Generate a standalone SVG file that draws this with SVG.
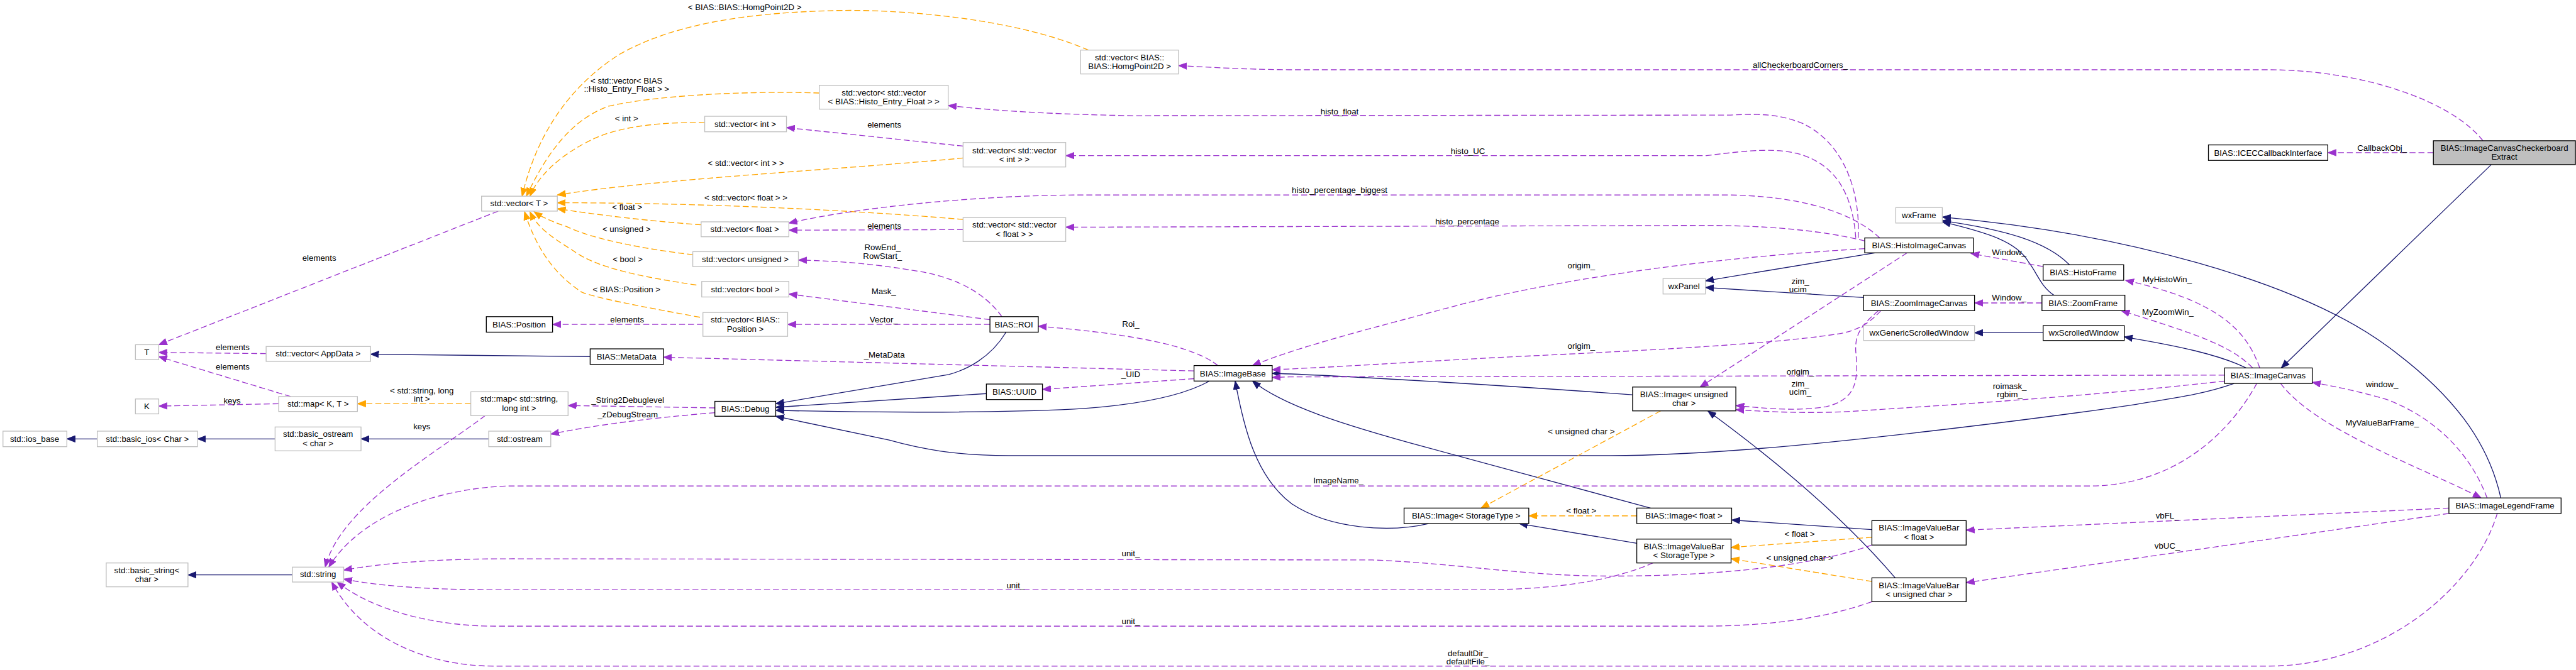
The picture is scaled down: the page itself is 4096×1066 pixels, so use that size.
<svg xmlns="http://www.w3.org/2000/svg" width="4096" height="1066" viewBox="0 0 4096 1066">
<style>
text{font-family:"Liberation Sans",Arial,Helvetica,sans-serif;font-size:14px;fill:#000;text-anchor:middle}
.node rect{fill:#fff;stroke:#000;stroke-width:1.4}
.node.ext rect{stroke:#bfbfbf}
.node.main rect{fill:#bfbfbf;stroke:#000}
.e{fill:none;stroke-width:1.4}
.inh{stroke:#191970;marker-end:url(#aN)}
.use{stroke:#9a32cd;stroke-dasharray:10,5;marker-end:url(#aP)}
.tpl{stroke:#ffa500;stroke-dasharray:10,5;marker-end:url(#aO)}
</style>
<defs>
<marker id="aN" markerUnits="userSpaceOnUse" markerWidth="15" markerHeight="12" viewBox="0 0 15 12" refX="14" refY="6" orient="auto"><path d="M0,0.5 L14,6 L0,11.5 z" fill="#191970" stroke="#191970"/></marker>
<marker id="aP" markerUnits="userSpaceOnUse" markerWidth="15" markerHeight="12" viewBox="0 0 15 12" refX="14" refY="6" orient="auto"><path d="M0,0.5 L14,6 L0,11.5 z" fill="#9a32cd" stroke="#9a32cd"/></marker>
<marker id="aO" markerUnits="userSpaceOnUse" markerWidth="15" markerHeight="12" viewBox="0 0 15 12" refX="14" refY="6" orient="auto"><path d="M0,0.5 L14,6 L0,11.5 z" fill="#ffa500" stroke="#ffa500"/></marker>
</defs>
<rect x="0" y="0" width="4096" height="1066" fill="#fff"/>
<g transform="scale(0.94881)">
<g id="edges">
<!-- inheritance -->
<path class="e inh" d="M163,736 L112,736"/>
<path class="e inh" d="M461,736 L331,736"/>
<path class="e inh" d="M819,736 L605,736"/>
<path class="e inh" d="M989,598 L621,594"/>
<path class="e inh" d="M490,964 L315,964"/>
<path class="e inh" d="M1686,557 C1660,600 1620,620 1590,628 L1300,677"/>
<path class="e inh" d="M1653,660 L1300,683"/>
<path class="e inh" d="M2027,639 C1980,665 1900,680 1800,686 C1650,693 1450,692 1300,688"/>
<path class="e inh" d="M3744,643 C3690,662 3640,668 3580,678 C3400,705 3100,740 2950,752 C2850,760 2760,764 2700,764 L1690,764 C1600,764 1540,752 1490,738 L1300,698"/>
<path class="e inh" d="M2766,852 L2390,750 C2250,712 2150,680 2099,639"/>
<path class="e inh" d="M2394,878 C2330,893 2230,888 2165,845 C2105,800 2085,720 2070,639"/>
<path class="e inh" d="M2743,911 L2546,878"/>
<path class="e inh" d="M3137,888 L2902,872"/>
<path class="e inh" d="M3176,969 C3100,880 3000,790 2862,689"/>
<path class="e inh" d="M2736,662 C2500,645 2250,630 2132,626"/>
<path class="e inh" d="M3142,424 L2858,471"/>
<path class="e inh" d="M3123,499 L2858,482"/>
<path class="e inh" d="M3468,444 C3430,405 3360,385 3255,370"/>
<path class="e inh" d="M3442,495 C3420,480 3415,460 3400,440 C3380,405 3330,390 3255,372"/>
<path class="e inh" d="M4191,835 C4170,740 4110,660 4000,580 C3850,470 3550,390 3255,364"/>
<path class="e inh" d="M3424,558 L3309,558"/>
<path class="e inh" d="M3764,617 C3720,595 3650,580 3560,565"/>
<path class="e inh" d="M4175,276 L3823,617"/>
<!-- template instantiation -->
<path class="e tpl" d="M1824,84 C1700,30 1500,14 1390,18 C1250,22 1130,40 1040,90 C960,140 900,220 875,329"/>
<text x="1248" y="17">&lt; BIAS::BIAS::HomgPoint2D &gt;</text>
<path class="e tpl" d="M1373,156 C1250,152 1100,160 1020,178 C960,200 920,250 882,329"/>
<text x="1050" y="140">&lt; std::vector&lt; BIAS</text>
<text x="1050" y="154">::Histo_Entry_Float &gt; &gt;</text>
<path class="e tpl" d="M1181,206 C1120,204 1040,210 990,235 C930,265 900,300 888,329"/>
<text x="1050" y="203">&lt; int &gt;</text>
<path class="e tpl" d="M1614,265 C1400,285 1100,300 934,327"/>
<text x="1250" y="278">&lt; std::vector&lt; int &gt; &gt;</text>
<path class="e tpl" d="M1614,368 C1400,350 1150,340 934,340"/>
<text x="1250" y="336">&lt; std::vector&lt; float &gt; &gt;</text>
<path class="e tpl" d="M1175,377 C1080,370 1000,360 934,350"/>
<text x="1051" y="352">&lt; float &gt;</text>
<path class="e tpl" d="M1161,427 C1080,418 990,400 950,380 C920,370 905,362 895,355"/>
<text x="1050" y="389">&lt; unsigned &gt;</text>
<path class="e tpl" d="M1167,478 C1080,465 1000,450 960,420 C920,395 900,380 888,355"/>
<text x="1052" y="439">&lt; bool &gt;</text>
<path class="e tpl" d="M1173,532 C1080,515 1000,500 975,490 C930,460 900,420 879,355"/>
<text x="1050" y="490">&lt; BIAS::Position &gt;</text>
<path class="e tpl" d="M789,677 L599,677"/>
<text x="707" y="660">&lt; std::string, long</text>
<text x="707" y="674">int &gt;</text>
<path class="e tpl" d="M2743,865 L2562,865"/>
<text x="2650" y="861">&lt; float &gt;</text>
<path class="e tpl" d="M3137,901 L2901,918"/>
<text x="3016" y="900">&lt; float &gt;</text>
<path class="e tpl" d="M3137,975 L2901,937"/>
<text x="3016" y="940">&lt; unsigned char &gt;</text>
<path class="e tpl" d="M2783,689 L2482,852"/>
<text x="2650" y="728">&lt; unsigned char &gt;</text>
<!-- usage -->
<path class="e use" d="M835,354 L266,578"/>
<text x="535" y="437">elements</text>
<path class="e use" d="M446,593 L266,591"/>
<text x="390" y="587">elements</text>
<path class="e use" d="M487,665 L266,598"/>
<text x="390" y="620">elements</text>
<path class="e use" d="M467,677 L266,681"/>
<text x="389" y="677">keys</text>
<path class="e use" d="M813,697 C730,760 570,850 545,951"/>
<text x="707" y="720">keys</text>
<path class="e use" d="M1198,684 L952,680"/>
<text x="1052" y="676">_String2Debuglevel</text>
<path class="e use" d="M1198,692 C1100,700 1000,712 923,728"/>
<text x="1052" y="700">_zDebugStream</text>
<path class="e use" d="M1178,544 L926,544"/>
<text x="1051" y="541">elements</text>
<path class="e use" d="M1614,245 L1318,214"/>
<text x="1482" y="214">elements</text>
<path class="e use" d="M1614,385 L1322,386"/>
<text x="1482" y="384">elements</text>
<path class="e use" d="M1679,531 C1650,490 1600,465 1540,455 C1450,440 1400,438 1338,436"/>
<text x="1479" y="419">RowEnd_</text>
<text x="1479" y="434">RowStart_</text>
<path class="e use" d="M1659,536 L1322,493"/>
<text x="1481" y="493">Mask_</text>
<path class="e use" d="M1659,544 L1320,544"/>
<text x="1481" y="541">Vector_</text>
<path class="e use" d="M2041,613 C2000,580 1900,560 1740,547"/>
<text x="1895" y="548">Roi_</text>
<path class="e use" d="M2001,622 L1112,599"/>
<text x="1482" y="600">_MetaData</text>
<path class="e use" d="M2001,635 L1747,653"/>
<text x="1895" y="632">_UID</text>
<path class="e use" d="M4161,236 C4110,170 3960,117 3800,117 L2160,117 C2080,116 2030,113 1975,110"/>
<text x="3017" y="114">allCheckerboardCorners_</text>
<path class="e use" d="M4078,256 L3901,256"/>
<text x="3992" y="253">CallbackObj_</text>
<path class="e use" d="M3114,399 C3118,320 3090,240 3021,207 C2985,192 2950,190 2900,193 L1900,194 C1780,192 1680,187 1589,177"/>
<text x="2245" y="192">histo_float</text>
<path class="e use" d="M3110,399 C3105,330 3080,280 3021,260 C2980,247 2930,252 2860,261 L1786,261"/>
<text x="2460" y="258">histo_UC</text>
<path class="e use" d="M3150,399 C3120,370 3050,330 2900,327 L1800,327 C1650,328 1450,345 1322,374"/>
<text x="2245" y="324">histo_percentage_biggest</text>
<path class="e use" d="M3125,404 C3050,385 2950,378 2860,378 L1786,381"/>
<text x="2459" y="376">histo_percentage</text>
<path class="e use" d="M3125,417 C2900,430 2650,460 2450,510 C2300,550 2180,580 2099,613"/>
<text x="2650" y="450">origim_</text>
<path class="e use" d="M3196,424 L2849,649"/>
<text x="3017" y="476">zim_</text>
<text x="3017" y="490">ucim_</text>
<path class="e use" d="M3148,521 C3120,545 3108,560 3110,590 C3115,640 3110,670 3060,682 C3010,690 2960,685 2909,680"/>
<text x="3017" y="648">zim_</text>
<text x="3017" y="662">ucim_</text>
<path class="e use" d="M3152,521 C3130,545 3110,555 3080,560 C2950,580 2700,590 2500,600 C2350,608 2250,615 2132,620"/>
<text x="2650" y="585">origim_</text>
<path class="e use" d="M3728,629 L2160,632 L2132,633"/>
<text x="3017" y="628">origim_</text>
<path class="e use" d="M3728,639 C3500,665 3250,680 3100,690 C3020,694 2960,690 2909,687"/>
<text x="3368" y="652">roimask_</text>
<text x="3368" y="666">rgbim_</text>
<path class="e use" d="M3424,447 L3303,425"/>
<text x="3367" y="428">Window_</text>
<path class="e use" d="M3422,508 L3309,508"/>
<text x="3367" y="504">Window_</text>
<path class="e use" d="M3787,617 C3765,555 3720,505 3562,470"/>
<text x="3632" y="473">MyHistoWin_</text>
<path class="e use" d="M3775,617 C3740,580 3680,560 3555,521"/>
<text x="3633" y="528">MyZoomWin_</text>
<path class="e use" d="M4168,835 C4140,760 4080,700 4000,670 C3950,655 3910,648 3875,641"/>
<text x="3992" y="649">window_</text>
<path class="e use" d="M3822,643 C3880,720 4050,780 4158,835"/>
<text x="3992" y="714">MyValueBarFrame_</text>
<path class="e use" d="M3782,643 C3740,720 3650,815 3500,815 L850,815 C720,820 600,870 551,951"/>
<text x="2243" y="811">ImageName_</text>
<path class="e use" d="M2770,944 C2700,975 2600,989 2480,989 L830,989 C700,989 620,980 576,971"/>
<text x="1702" y="986">unit_</text>
<path class="e use" d="M3137,914 C3050,945 2900,966 2700,966 C2550,966 2450,945 2300,939 L860,937 C720,937 640,945 576,956"/>
<text x="1895" y="933">unit_</text>
<path class="e use" d="M3137,1009 C3050,1040 2950,1050 2849,1050 L830,1050 C720,1050 620,1020 565,976"/>
<text x="1895" y="1047">unit_</text>
<path class="e use" d="M4185,861 C4150,980 4000,1117 3800,1117 L830,1117 C700,1117 600,1060 556,976"/>
<text x="2460" y="1100">defaultDir_</text>
<text x="2460" y="1114">defaultFile_</text>
<path class="e use" d="M4104,852 L3295,889"/>
<text x="3632" y="869">vbFL_</text>
<path class="e use" d="M4104,861 L3295,977"/>
<text x="3632" y="920">vbUC_</text>
</g>
<g id="n_extract" class="node main"><rect x="4078" y="236" width="238" height="40"/><text x="4197" y="253">BIAS::ImageCanvasCheckerboard</text><text x="4197" y="268">Extract</text></g>
<g id="n_icec" class="node"><rect x="3701" y="243" width="200" height="26"/><text x="3801" y="261">BIAS::ICECCallbackInterface</text></g>
<g id="n_vhomg" class="node ext"><rect x="1811" y="84" width="164" height="40"/><text x="1893" y="101">std::vector&lt; BIAS::</text><text x="1893" y="116">BIAS::HomgPoint2D &gt;</text></g>
<g id="n_vhisto" class="node ext"><rect x="1373" y="143" width="216" height="40"/><text x="1481" y="160">std::vector&lt; std::vector</text><text x="1481" y="175">&lt; BIAS::Histo_Entry_Float &gt; &gt;</text></g>
<g id="n_vint" class="node ext"><rect x="1181" y="195" width="137" height="26"/><text x="1249" y="213">std::vector&lt; int &gt;</text></g>
<g id="n_vvint" class="node ext"><rect x="1614" y="239" width="172" height="41"/><text x="1700" y="257">std::vector&lt; std::vector</text><text x="1700" y="272">&lt; int &gt; &gt;</text></g>
<g id="n_vT" class="node ext"><rect x="807" y="329" width="127" height="25"/><text x="870" y="346">std::vector&lt; T &gt;</text></g>
<g id="n_vfloat" class="node ext"><rect x="1175" y="372" width="147" height="25"/><text x="1248" y="389">std::vector&lt; float &gt;</text></g>
<g id="n_vvfloat" class="node ext"><rect x="1614" y="365" width="172" height="40"/><text x="1700" y="382">std::vector&lt; std::vector</text><text x="1700" y="397">&lt; float &gt; &gt;</text></g>
<g id="n_vunsigned" class="node ext"><rect x="1161" y="422" width="177" height="25"/><text x="1249" y="439">std::vector&lt; unsigned &gt;</text></g>
<g id="n_vbool" class="node ext"><rect x="1176" y="472" width="146" height="26"/><text x="1249" y="490">std::vector&lt; bool &gt;</text></g>
<g id="n_vpos" class="node ext"><rect x="1178" y="524" width="142" height="40"/><text x="1249" y="541">std::vector&lt; BIAS::</text><text x="1249" y="556">Position &gt;</text></g>
<g id="n_pos" class="node"><rect x="815" y="531" width="111" height="26"/><text x="870" y="549">BIAS::Position</text></g>
<g id="n_roi" class="node"><rect x="1659" y="531" width="81" height="26"/><text x="1699" y="549">BIAS::ROI</text></g>
<g id="n_T" class="node ext"><rect x="227" y="578" width="39" height="25"/><text x="246" y="595">T</text></g>
<g id="n_vapp" class="node ext"><rect x="446" y="581" width="175" height="25"/><text x="533" y="598">std::vector&lt; AppData &gt;</text></g>
<g id="n_meta" class="node"><rect x="989" y="585" width="123" height="26"/><text x="1050" y="603">BIAS::MetaData</text></g>
<g id="n_K" class="node ext"><rect x="227" y="669" width="39" height="25"/><text x="246" y="686">K</text></g>
<g id="n_mapKT" class="node ext"><rect x="467" y="665" width="132" height="25"/><text x="533" y="682">std::map&lt; K, T &gt;</text></g>
<g id="n_mapstr" class="node ext"><rect x="789" y="657" width="163" height="40"/><text x="870" y="674">std::map&lt; std::string,</text><text x="870" y="689">long int &gt;</text></g>
<g id="n_iosbase" class="node ext"><rect x="5" y="723" width="107" height="26"/><text x="58" y="741">std::ios_base</text></g>
<g id="n_basicios" class="node ext"><rect x="163" y="723" width="168" height="26"/><text x="247" y="741">std::basic_ios&lt; Char &gt;</text></g>
<g id="n_bostream" class="node ext"><rect x="461" y="716" width="144" height="40"/><text x="533" y="733">std::basic_ostream</text><text x="533" y="748">&lt; char &gt;</text></g>
<g id="n_ostream" class="node ext"><rect x="819" y="723" width="104" height="26"/><text x="871" y="741">std::ostream</text></g>
<g id="n_debug" class="node"><rect x="1198" y="673" width="102" height="25"/><text x="1249" y="690">BIAS::Debug</text></g>
<g id="n_uuid" class="node"><rect x="1653" y="644" width="94" height="26"/><text x="1700" y="662">BIAS::UUID</text></g>
<g id="n_imagebase" class="node"><rect x="2001" y="613" width="131" height="26"/><text x="2066" y="631">BIAS::ImageBase</text></g>
<g id="n_wxframe" class="node ext"><rect x="3177" y="348" width="78" height="26"/><text x="3216" y="366">wxFrame</text></g>
<g id="n_histocanvas" class="node"><rect x="3125" y="399" width="182" height="25"/><text x="3216" y="416">BIAS::HistoImageCanvas</text></g>
<g id="n_wxpanel" class="node ext"><rect x="2787" y="467" width="71" height="26"/><text x="2822" y="485">wxPanel</text></g>
<g id="n_zoomcanvas" class="node"><rect x="3123" y="495" width="186" height="26"/><text x="3216" y="513">BIAS::ZoomImageCanvas</text></g>
<g id="n_wxgsw" class="node ext"><rect x="3123" y="546" width="186" height="25"/><text x="3216" y="563">wxGenericScrolledWindow</text></g>
<g id="n_histoframe" class="node"><rect x="3424" y="444" width="135" height="26"/><text x="3491" y="462">BIAS::HistoFrame</text></g>
<g id="n_zoomframe" class="node"><rect x="3422" y="495" width="139" height="26"/><text x="3491" y="513">BIAS::ZoomFrame</text></g>
<g id="n_wxsw" class="node"><rect x="3424" y="546" width="136" height="25"/><text x="3492" y="563">wxScrolledWindow</text></g>
<g id="n_canvas" class="node"><rect x="3728" y="617" width="147" height="26"/><text x="3801" y="635">BIAS::ImageCanvas</text></g>
<g id="n_imguc" class="node"><rect x="2736" y="649" width="173" height="40"/><text x="2822" y="666">BIAS::Image&lt; unsigned</text><text x="2822" y="681">char &gt;</text></g>
<g id="n_imgst" class="node"><rect x="2353" y="852" width="209" height="26"/><text x="2457" y="870">BIAS::Image&lt; StorageType &gt;</text></g>
<g id="n_imgf" class="node"><rect x="2743" y="852" width="159" height="26"/><text x="2822" y="870">BIAS::Image&lt; float &gt;</text></g>
<g id="n_vbst" class="node"><rect x="2743" y="904" width="158" height="40"/><text x="2822" y="921">BIAS::ImageValueBar</text><text x="2822" y="936">&lt; StorageType &gt;</text></g>
<g id="n_vbf" class="node"><rect x="3137" y="873" width="158" height="41"/><text x="3216" y="890">BIAS::ImageValueBar</text><text x="3216" y="905">&lt; float &gt;</text></g>
<g id="n_vbuc" class="node"><rect x="3137" y="969" width="158" height="40"/><text x="3216" y="986">BIAS::ImageValueBar</text><text x="3216" y="1001">&lt; unsigned char &gt;</text></g>
<g id="n_legend" class="node"><rect x="4104" y="835" width="188" height="26"/><text x="4198" y="853">BIAS::ImageLegendFrame</text></g>
<g id="n_bstring" class="node ext"><rect x="178" y="944" width="137" height="40"/><text x="246" y="961">std::basic_string&lt;</text><text x="246" y="976">char &gt;</text></g>
<g id="n_string" class="node ext"><rect x="490" y="951" width="86" height="25"/><text x="533" y="968">std::string</text></g>
</g>
</svg>
